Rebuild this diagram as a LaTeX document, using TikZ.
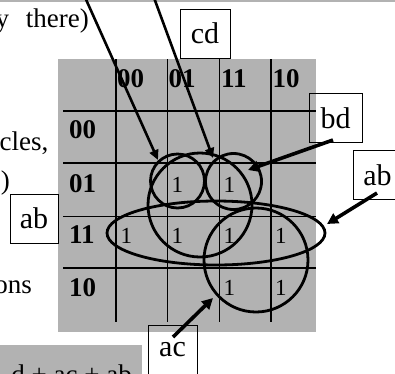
\documentclass[tikz,border=0pt]{standalone}
\usepackage{fontspec}
\setmainfont{Liberation Serif}
\usetikzlibrary{arrows.meta}
\definecolor{kgray}{RGB}{178,178,178}
\begin{document}
\begin{tikzpicture}[x=1pt,y=-1pt,
  body/.style={font=\fontsize{27}{32}\selectfont, inner sep=0, anchor=base east},
  hdr/.style={font=\fontsize{27}{32}\selectfont\bfseries, inner sep=0, anchor=base west},
  one/.style={font=\fontsize{23}{28}\selectfont, inner sep=0, anchor=base west},
  lbl/.style={draw, line width=0.9pt, font=\fontsize{30}{36}\selectfont, inner sep=0, minimum height=49pt},
  kgrid/.style={line width=1.2pt},
  ring/.style={line width=2.8pt},
  arr/.style={line width=3.6pt, -{Triangle[length=11pt,width=11pt]}},
  arrthin/.style={line width=2.6pt, -{Triangle[length=10pt,width=9pt]}}
]
\useasboundingbox (0,0) rectangle (395,373);
\clip (0,0) rectangle (395,373);
% top band and table background
\fill[kgray] (0,-2) rectangle (395,2.3);
\fill[kgray] (58,59) rectangle (316,332);
% grid lines
\foreach \x in {116,167.5,219.5,271} \draw[kgrid] (\x,59) -- (\x,322);
\foreach \y in {111,163,216.5,268} \draw[kgrid] (63,\y) -- (316,\y);
% headers
\node[hdr] (c00) at (117,87) {00};
\node[hdr] (c01) at (168.5,87) {01};
\node[hdr] (c11) at (221,87) {11};
\node[hdr] (c10) at (272.5,87) {10};
\node[hdr] (r00) at (69,138) {00};
\node[hdr] (r01) at (69,192) {01};
\node[hdr] (r11) at (69,243) {11};
\node[hdr] (r10) at (69,296) {10};
% ones
\node[one] (o1) at (171.5,192) {1};
\node[one] (o2) at (223.5,192) {1};
\node[one] (o3) at (120.5,243) {1};
\node[one] (o4) at (171.5,243) {1};
\node[one] (o5) at (223.5,243) {1};
\node[one] (o6) at (275,243) {1};
\node[one] (o7) at (223.5,295) {1};
\node[one] (o8) at (275,295) {1};
% body text fragments
\node[body] (t1) at (89,27) {y\hspace{10pt} there)};
\node[body] (t2) at (48.5,150) {cles,};
\node[body] (t3) at (10,189) {)};
\node[body] (t4) at (32,293) {ons};
% bottom formula
\fill[kgray] (0,345) rectangle (142,380);
\node[body] (f) at (132,383) {d + ac + ab};
% label boxes
\node[lbl, minimum width=50pt] (cd) at (205,33.5) {cd};
\node[lbl, minimum width=53pt] (bd) at (335.5,118) {bd};
\node[lbl, minimum width=49pt] (abR) at (377.5,175) {ab};
\node[lbl, minimum width=48pt] (abL) at (34,218.5) {ab};
\node[lbl, minimum width=49pt] (ac) at (172.5,349.5) {ac};
% groupings
\draw[ring] (177.5,181) circle [radius=27];
\draw[ring] (233.5,181.5) circle [radius=28];
\draw[ring] (200,205) circle [radius=52];
\draw[ring] (256,260) circle [radius=52];
\draw[ring] (216,233) ellipse [x radius=109, y radius=32];
% arrows
\coordinate (s1) at (84,-5);
\coordinate (e1) at (158,160);
\coordinate (s2) at (153,-5);
\coordinate (e2) at (213,158);
\coordinate (sbd) at (333,140);
\coordinate (ebd) at (248,170);
\coordinate (sab) at (377,193);
\coordinate (eab) at (327,224);
\coordinate (sac) at (173,337);
\coordinate (eac) at (213,298);
\draw[arrthin] (s1) -- (e1);
\draw[arrthin] (s2) -- (e2);
\draw[arr] (sbd) -- (ebd);
\draw[arr] (sab) -- (eab);
\draw[arr] (sac) -- (eac);
\end{tikzpicture}
\end{document}
